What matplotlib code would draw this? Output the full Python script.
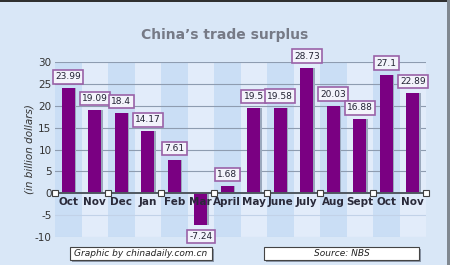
import numpy as np
import matplotlib
matplotlib.use("Agg")
from matplotlib import pyplot as plt
from matplotlib.patches import Rectangle

#---------------------------------Data--------------------------------
months = ["Oct", "Nov", "Dec", "Jan", "Feb", "Mar", "April",
          "May", "June", "July", "Aug", "Sept", "Oct", "Nov"]
surplus = [23.99, 19.09, 18.4, 14.17, 7.61, -7.24, 1.68,
           19.5, 19.58, 28.73, 20.03, 16.88, 27.1, 22.89]
labels = ["23.99", "19.09", "18.4", "14.17", "7.61", "-7.24", "1.68",
          "19.5", "19.58", "28.73", "20.03", "16.88", "27.1", "22.89"]
yticks = [-10, -5, 0, 5, 10, 15, 20, 25, 30]

#---------------------------------Figure--------------------------------
bg = "#d9e7f7"
fig = plt.figure(figsize=(4.5, 2.65), dpi=100, facecolor=bg)
ax = fig.add_axes([55/450, 28/265, 371/450, 175/265])
ax.set_facecolor("#dbe8f8")
n = len(months)
x = np.arange(n)
ax.set_xlim(-0.5, n - 0.5)
ax.set_ylim(-10, 30)

# alternating column bands
for i in range(n):
    clr = "#cadef5" if i % 2 == 0 else "#e2ecfa"
    ax.axvspan(i - 0.5, i + 0.5, color=clr, zorder=0, lw=0)

# grid lines
for v in yticks:
    if v > 0:
        ax.axhline(v, color="#8e9cb0", lw=0.8, zorder=1)
    elif v < 0:
        ax.axhline(v, color="#c2d2e8", lw=0.8, zorder=1)

# bars with a little shadow
ax.bar(x + 0.07, surplus, width=0.48, color="#9aa8bc", zorder=2, lw=0)
ax.bar(x, surplus, width=0.48, color="#7a0082", zorder=3, lw=0)

# zero line and square markers
ax.axhline(0, color="#505860", lw=1.4, zorder=4)
sq = np.arange(-0.5, n, 2)
ax.plot(sq, [0] * len(sq), ls="none", marker="s", ms=4, mfc="white",
        mec="#404040", mew=0.8, zorder=5, clip_on=False)

# value labels
for i in range(n):
    v = surplus[i]
    off = 5 if v >= 0 else -5
    ax.annotate(labels[i], (x[i], v), xytext=(0, off), textcoords="offset points",
                ha="center", va="bottom" if v >= 0 else "top", fontsize=6.5,
                color="#222233", zorder=6,
                bbox=dict(boxstyle="square,pad=0.25", fc="#f3f3fb", ec="#9a62a8", lw=1.2),
                annotation_clip=False)

# month labels under the zero line
for i in range(n):
    ax.annotate(months[i], (x[i], 0), xytext=(0, -2.5), textcoords="offset points",
                ha="center", va="top", fontsize=7.5, fontweight="bold", color="#2a2a3a", zorder=6)

ax.set_xticks([])
ax.set_yticks(yticks)
ax.set_yticklabels([str(v) for v in yticks], fontsize=7.5, color="#333333")
ax.tick_params(axis="y", length=0, pad=2.5)
for s in ax.spines.values():
    s.set_visible(False)

ax.set_ylabel("(in billion dollars)", fontsize=7.5, style="italic", color="#333333", labelpad=0)

fig.text(225/450, 1 - 35/265, "China\u2019s trade surplus", ha="center", va="center",
         fontsize=10, fontweight="bold", color="#767a86")

# footer boxes
for (x0, x1, txt) in [(70, 212, "Graphic by chinadaily.com.cn"), (264, 419, "Source: NBS")]:
    fig.patches.append(Rectangle(((x0 + 2)/450, (265 - 262)/265), (x1 - x0)/450, 13/265,
                                 transform=fig.transFigure, fc="#8a96a8", ec="none"))
    fig.patches.append(Rectangle((x0/450, (265 - 260)/265), (x1 - x0)/450, 13/265,
                                 transform=fig.transFigure, fc="white", ec="#444444", lw=0.8))
    fig.text((x0 + x1)/2/450, (265 - 253.5)/265, txt, ha="center", va="center",
             fontsize=6.5, style="italic", color="#222222")

# frame lines
fig.patches.append(Rectangle((0, 1 - 2/265), 1, 2/265, transform=fig.transFigure, fc="#303030", ec="none"))
fig.patches.append(Rectangle((1 - 3/450, 0), 3/450, 1, transform=fig.transFigure, fc="#808890", ec="none"))

fig.savefig("out.png", dpi=100, facecolor=bg)
